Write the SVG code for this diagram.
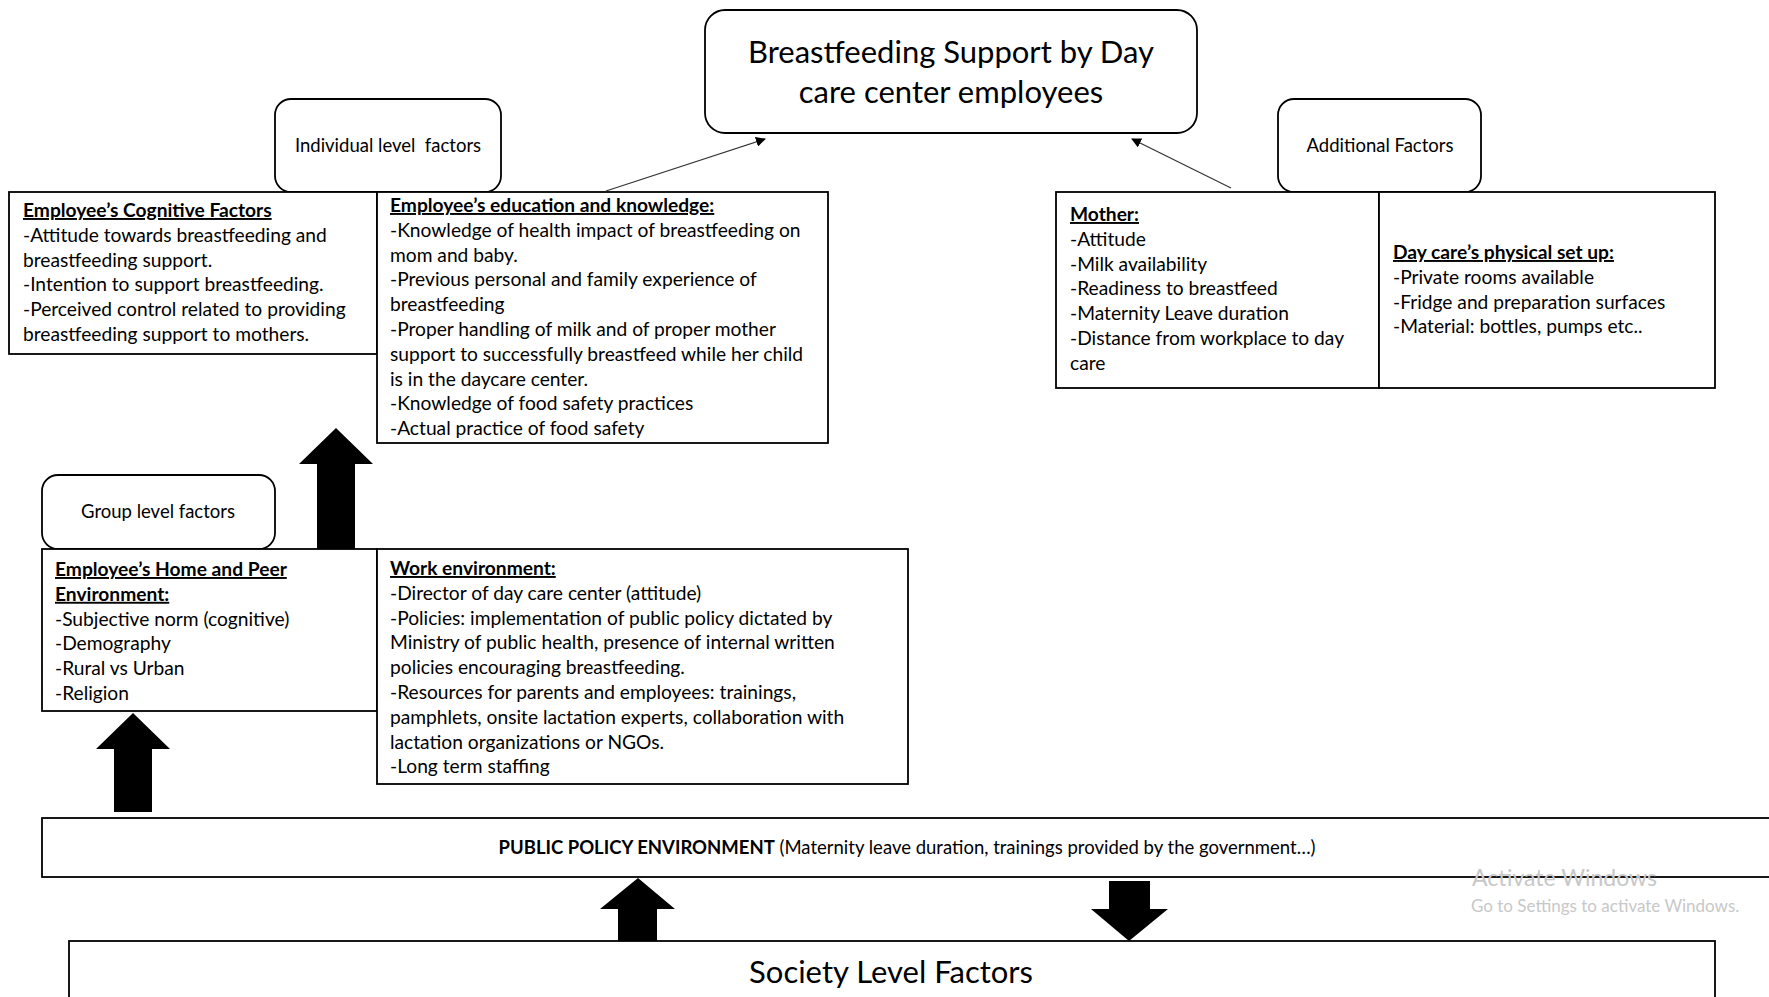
<svg xmlns="http://www.w3.org/2000/svg" width="1769" height="997" viewBox="0 0 1769 997">
<style>
.box{fill:#fff;stroke:#000;stroke-width:1.8}
.rbox{fill:#fff;stroke:#000;stroke-width:1.8}
.t{font-family:Lato,"Open Sans",sans-serif;font-size:19.2px;fill:#000}
.h{font-weight:bold;text-decoration:underline}
.lbl{font-family:Lato,"Open Sans",sans-serif;font-size:18.5px;fill:#000;text-anchor:middle;white-space:pre}
.big{font-family:Lato,"Open Sans",sans-serif;font-size:31px;fill:#000;text-anchor:middle}
.blk{fill:#000}
.wm{font-family:Lato,"Open Sans",sans-serif;fill:#c8c8c8}
</style>
<defs>
<marker id="ah" viewBox="0 0 10 10" refX="9" refY="5" markerWidth="10" markerHeight="10" markerUnits="userSpaceOnUse" orient="auto">
<path d="M0,0 L10,5 L0,10 z" fill="#000"/>
</marker>
</defs>

<g id="title">
<rect class="rbox" x="705" y="10" width="492" height="123" rx="20"/>
<text class="big" x="951" y="63">Breastfeeding Support by Day</text>
<text class="big" x="951" y="103">care center employees</text>
</g>

<g id="individual-label">
<rect class="rbox" x="275" y="99" width="226" height="93" rx="16"/>
<text class="lbl" x="388" y="152" font-size="18">Individual level  factors</text>
</g>

<g id="additional-label">
<rect class="rbox" x="1278" y="99" width="203" height="93" rx="16"/>
<text class="lbl" x="1380" y="152" font-size="19.5">Additional Factors</text>
</g>

<g id="group-label">
<rect class="rbox" x="42" y="475" width="233" height="74" rx="16"/>
<text class="lbl" x="158" y="518" font-size="19.5">Group level factors</text>
</g>

<g id="cognitive">
<rect class="box" x="9" y="192" width="368" height="162"/>
<text class="t" x="23" y="217"><tspan class="h">Employee’s Cognitive Factors</tspan>
<tspan x="23" dy="24.8">-Attitude towards breastfeeding and</tspan>
<tspan x="23" dy="24.8">breastfeeding support.</tspan>
<tspan x="23" dy="24.8">-Intention to support breastfeeding.</tspan>
<tspan x="23" dy="24.8">-Perceived control related to providing</tspan>
<tspan x="23" dy="24.8">breastfeeding support to mothers.</tspan></text>
</g>

<g id="education">
<rect class="box" x="377" y="192" width="451" height="251"/>
<text class="t" x="390" y="212"><tspan class="h">Employee’s education and knowledge:</tspan>
<tspan x="390" dy="24.8">-Knowledge of health impact of breastfeeding on</tspan>
<tspan x="390" dy="24.8">mom and baby.</tspan>
<tspan x="390" dy="24.8">-Previous personal and family experience of</tspan>
<tspan x="390" dy="24.8">breastfeeding</tspan>
<tspan x="390" dy="24.8">-Proper handling of milk and of proper mother</tspan>
<tspan x="390" dy="24.8">support to successfully breastfeed while her child</tspan>
<tspan x="390" dy="24.8">is in the daycare center.</tspan>
<tspan x="390" dy="24.8">-Knowledge of food safety practices</tspan>
<tspan x="390" dy="24.8">-Actual practice of food safety</tspan></text>
</g>

<g id="mother">
<rect class="box" x="1056" y="192" width="323" height="196"/>
<text class="t" x="1070" y="221"><tspan class="h">Mother:</tspan>
<tspan x="1070" dy="24.8">-Attitude</tspan>
<tspan x="1070" dy="24.8">-Milk availability</tspan>
<tspan x="1070" dy="24.8">-Readiness to breastfeed</tspan>
<tspan x="1070" dy="24.8">-Maternity Leave duration</tspan>
<tspan x="1070" dy="24.8">-Distance from workplace to day</tspan>
<tspan x="1070" dy="24.8">care</tspan></text>
</g>

<g id="daycare">
<rect class="box" x="1379" y="192" width="336" height="196"/>
<text class="t" x="1393" y="259"><tspan class="h">Day care’s physical set up:</tspan>
<tspan x="1393" dy="24.8">-Private rooms available</tspan>
<tspan x="1393" dy="24.8">-Fridge and preparation surfaces</tspan>
<tspan x="1393" dy="24.8">-Material: bottles, pumps etc..</tspan></text>
</g>

<g id="home-peer">
<rect class="box" x="42" y="549" width="335" height="162"/>
<text class="t" x="55" y="576"><tspan class="h">Employee’s Home and Peer</tspan>
<tspan x="55" dy="24.8" class="h">Environment:</tspan>
<tspan x="55" dy="24.8">-Subjective norm (cognitive)</tspan>
<tspan x="55" dy="24.8">-Demography</tspan>
<tspan x="55" dy="24.8">-Rural vs Urban</tspan>
<tspan x="55" dy="24.8">-Religion</tspan></text>
</g>

<g id="work">
<rect class="box" x="377" y="549" width="531" height="235"/>
<text class="t" x="390" y="575"><tspan class="h">Work environment:</tspan>
<tspan x="390" dy="24.8">-Director of day care center (attitude)</tspan>
<tspan x="390" dy="24.8">-Policies: implementation of public policy dictated by</tspan>
<tspan x="390" dy="24.8">Ministry of public health, presence of internal written</tspan>
<tspan x="390" dy="24.8">policies encouraging breastfeeding.</tspan>
<tspan x="390" dy="24.8">-Resources for parents and employees: trainings,</tspan>
<tspan x="390" dy="24.8">pamphlets, onsite lactation experts, collaboration with</tspan>
<tspan x="390" dy="24.8">lactation organizations or NGOs.</tspan>
<tspan x="390" dy="24.8">-Long term staffing</tspan></text>
</g>

<g id="public-policy">
<rect class="box" x="42" y="818" width="1760" height="59"/>
<text class="lbl" x="907" y="854" font-size="18.8"><tspan font-weight="bold">PUBLIC POLICY ENVIRONMENT</tspan> (Maternity leave duration, trainings provided by the government…)</text>
</g>

<g id="society">
<rect class="box" x="69" y="941" width="1646" height="70"/>
<text class="big" x="891" y="983">Society Level Factors</text>
</g>

<g id="connectors">
<line x1="606" y1="191" x2="765" y2="139" stroke="#333" stroke-width="1.2" marker-end="url(#ah)"/>
<line x1="1231" y1="188" x2="1132" y2="139" stroke="#333" stroke-width="1.2" marker-end="url(#ah)"/>
<polygon class="blk" points="336,428 373,464 355,464 355,549 317,549 317,464 299,464"/>
<polygon class="blk" points="133,713 170,749 152,749 152,812 114,812 114,749 96,749"/>
<polygon class="blk" points="638,878 675,909 657,909 657,941 618,941 618,909 600,909"/>
<polygon class="blk" points="1129,941 1168,909 1150,909 1150,881 1109,881 1109,909 1091,909"/>
</g>

<g id="watermark">
<text class="wm" x="1472" y="886" font-size="23">Activate Windows</text>
<text class="wm" x="1471" y="912" font-size="17">Go to Settings to activate Windows.</text>
</g>
</svg>
